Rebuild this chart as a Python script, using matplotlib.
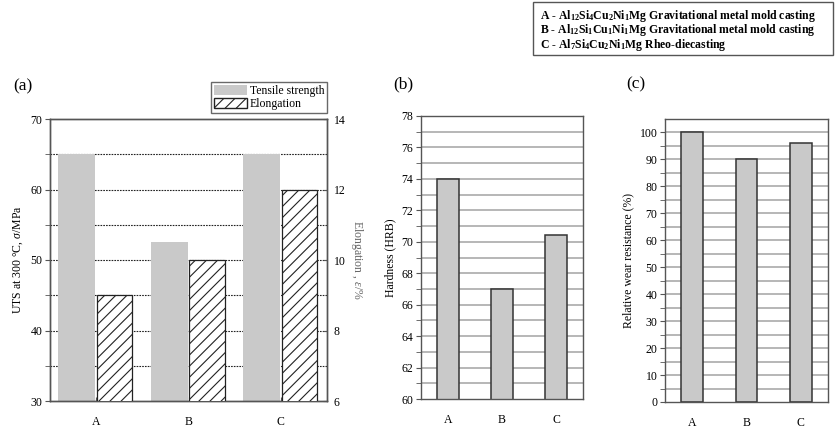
import matplotlib
matplotlib.use("Agg")
import matplotlib.pyplot as plt
from matplotlib.patches import Patch, Rectangle
import numpy as np

plt.rcParams['font.family'] = ['Liberation Serif', 'DejaVu Serif']
plt.rcParams['mathtext.fontset'] = 'custom'
plt.rcParams['mathtext.rm'] = 'Liberation Serif'
plt.rcParams['mathtext.it'] = 'Liberation Serif:italic'
plt.rcParams['mathtext.bf'] = 'Liberation Serif:bold'
plt.rcParams['hatch.linewidth'] = 0.8

# ---- data ----
categories = ['A', 'B', 'C']
tensile_strength = [65, 52.6, 65]      # MPa (left axis)
elongation = [9, 10, 12]               # % (right axis)
hardness = [74, 67, 70.4]              # HRB
wear_resistance = [100, 90, 96]        # %
legend_lines = [
    r"A - $\mathbf{Al_{12}Si_{4}Cu_{2}Ni_{1}Mg}$ Gravitational metal mold casting",
    r"B - $\mathbf{Al_{12}Si_{1}Cu_{1}Ni_{1}Mg}$ Gravitational metal mold casting",
    r"C - $\mathbf{Al_{7}Si_{4}Cu_{2}Ni_{1}Mg}$ Rheo-diecasting",
]

W, H = 838, 434
fig = plt.figure(figsize=(W / 100, H / 100), dpi=100)

FS = 8.5
GRAY = '#c9c9c9'
SPINE = '#555555'


def px_axes(left, top, right, bottom):
    return fig.add_axes([left / W, 1 - bottom / H, (right - left) / W, (bottom - top) / H])


def style(ax):
    for s in ax.spines.values():
        s.set_color(SPINE)
        s.set_linewidth(1.0)
    ax.tick_params(axis='x', direction='in', length=3, pad=11, labelsize=FS, color=SPINE)
    ax.tick_params(axis='y', direction='out', length=3.5, pad=2, labelsize=FS, color=SPINE)
    ax.tick_params(axis='y', which='minor', direction='out', length=3.5, color=SPINE)


x = np.arange(len(categories))

# ---- (a) ----
axa = px_axes(50, 119, 327, 401)
style(axa)
axa.set_xlim(-0.5, 2.5)
axa.set_ylim(30, 70)
axa.set_yticks([30, 40, 50, 60, 70])
axa.set_yticks([35, 45, 55, 65], minor=True)
axa.set_xticks(x)
axa.set_xticklabels(categories)
axa.bar(x - 0.21, tensile_strength, width=0.4, color=GRAY, edgecolor='none', zorder=2)
axa.set_ylabel(r"UTS at 300 °C, $\sigma$/MPa", fontsize=FS, labelpad=4)
for yv in [35, 40, 45, 50, 55, 60, 65]:
    axa.axhline(yv, color='#222222', lw=0.8, ls=(0, (1.5, 1.0)), zorder=1)

axb2 = axa.twinx()
for s in axb2.spines.values():
    s.set_color(SPINE)
    s.set_linewidth(1.0)
axb2.set_ylim(6, 14)
axb2.set_yticks([6, 8, 10, 12, 14])
axb2.tick_params(axis='y', direction='in', length=3, pad=5, labelsize=FS, color=SPINE)
axb2.bar(x + 0.2, elongation, width=0.38, color='white', edgecolor='#222222',
         hatch='///', lw=0.9, zorder=3)
axb2.set_ylabel(r"Elongation , $\varepsilon$/%", fontsize=FS, rotation=270,
                labelpad=14, color='#666666')

handles = [Patch(facecolor=GRAY, edgecolor='none', label='Tensile strength'),
           Patch(facecolor='white', edgecolor='#222222', hatch='///', label='Elongation')]
leg = axa.legend(handles=handles, loc='lower right', bbox_to_anchor=(1.0, 1.02),
                 fontsize=FS, frameon=True, fancybox=False, edgecolor='#444444',
                 borderpad=0.25, labelspacing=0.1, handlelength=2.8, handleheight=0.9,
                 handletextpad=0.2, borderaxespad=0.0)
leg.get_frame().set_linewidth(1.0)
fig.text(13 / W, 1 - 86 / H, "(a)", fontsize=12.5, va='center', ha='left')

# ---- (b) ----
axb = px_axes(421, 116, 583, 399)
style(axb)
axb.set_xlim(-0.5, 2.5)
axb.set_ylim(60, 78)
axb.set_yticks(np.arange(60, 79, 2))
axb.set_yticks(np.arange(61, 78, 2), minor=True)
axb.set_xticks(x)
axb.set_xticklabels(categories)
for yv in range(61, 78):
    axb.axhline(yv, color='#aaaaaa', lw=1.2, zorder=1)
axb.bar(x, hardness, width=0.4, color=GRAY, edgecolor='#333333', lw=1.1, zorder=2)
axb.set_ylabel("Hardness (HRB)", fontsize=FS, labelpad=4)
fig.text(393 / W, 1 - 84 / H, "(b)", fontsize=12.5, va='center', ha='left')

# ---- (c) ----
axc = px_axes(665, 119, 828, 402)
style(axc)
axc.set_xlim(-0.5, 2.5)
axc.set_ylim(0, 105)
axc.set_yticks(np.arange(0, 101, 10))
axc.set_yticks(np.arange(5, 101, 10), minor=True)
axc.set_xticks(x)
axc.set_xticklabels(categories)
for yv in range(5, 101, 5):
    axc.axhline(yv, color='#aaaaaa', lw=1.2, zorder=1)
axc.bar(x, wear_resistance, width=0.4, color=GRAY, edgecolor='#333333', lw=1.1, zorder=2)
axc.set_ylabel("Relative wear resistance (%)", fontsize=FS, labelpad=4)
fig.text(626 / W, 1 - 84 / H, "(c)", fontsize=12.5, va='center', ha='left')

# ---- top-right legend box ----
fig.patches.append(Rectangle((533 / W, 1 - 55 / H), 300 / W, 53 / H, transform=fig.transFigure,
                             facecolor='white', edgecolor='#555555', lw=1.0))
for i, line in enumerate(legend_lines):
    fig.text(540 / W, 1 - (16 + 14.5 * i) / H, line, fontsize=FS, fontweight='bold',
             va='center', ha='left')

fig.savefig("out.png", dpi=100)
